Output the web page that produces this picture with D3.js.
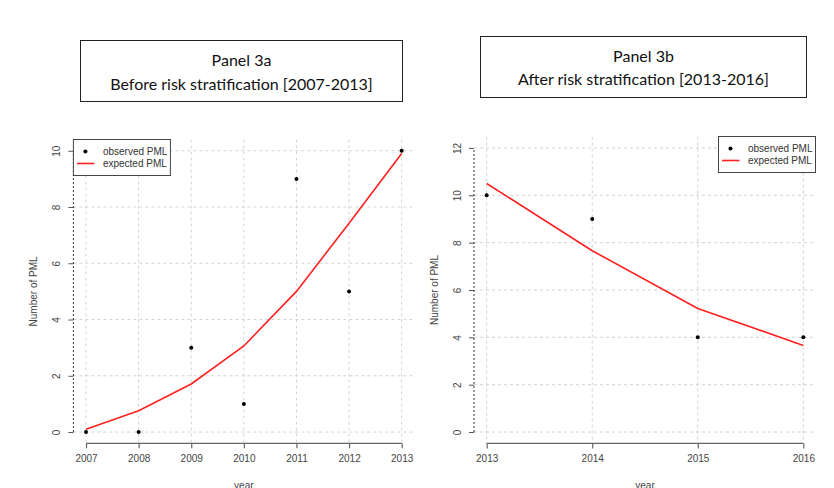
<!DOCTYPE html>
<html>
<head>
<meta charset="utf-8">
<script src="https://cdn.jsdelivr.net/npm/d3@7"></script>
<style>
  body { margin: 0; background: #fff; }
  svg { display: block; }
</style>
</head>
<body>
<script>
const WIDTH = 834;
const HEIGHT = 488;

// panel 3a data
const yearsA = [2007, 2008, 2009, 2010, 2011, 2012, 2013];
const observedA = [0, 0, 3, 1, 9, 5, 10];
const expectedA = [0.1, 0.76, 1.71, 3.06, 5.0, 7.42, 9.9];
const yTicksA = [0, 2, 4, 6, 8, 10];
const titleA = ["Panel 3a", "Before risk stratification [2007-2013]"];

// panel 3b data
const yearsB = [2013, 2014, 2015, 2016];
const observedB = [10, 9, 4, 4];
const expectedB = [10.5, 7.66, 5.22, 3.66];
const yTicksB = [0, 2, 4, 6, 8, 10, 12];
const titleB = ["Panel 3b", "After risk stratification [2013-2016]"];

const legendLabels = ["observed PML", "expected PML"];
const xLabel = "year";
const yLabel = "Number of PML";

var svg = d3.select("body").append("svg")
    .attr("width", WIDTH)
    .attr("height", HEIGHT);

// title boxes above each plot
function drawTitleBox(box, lines) {
    svg.append("rect")
        .attr("x", box.x).attr("y", box.y)
        .attr("width", box.w).attr("height", box.h)
        .attr("fill", "#fff")
        .attr("stroke", "#222")
        .attr("stroke-width", 1);
    svg.selectAll(null)
        .data(lines)
        .enter().append("text")
        .attr("x", box.x + box.w / 2)
        .attr("y", function(d, i) { return box.y + box.line1 + i * box.gap; })
        .attr("text-anchor", "middle")
        .style("font-family", "Lato, 'Open Sans', sans-serif")
        .style("font-size", "16px")
        .style("fill", "#111")
        .text(function(d) { return d; });
}

drawTitleBox({x: 80.5, y: 40.5, w: 322, h: 61, line1: 25, gap: 24}, titleA);
drawTitleBox({x: 480.5, y: 36.5, w: 326, h: 61, line1: 25, gap: 23}, titleB);

// one R style plot: points, red line, dotted grid, legend
function drawPanel(p) {
    var xPad = (d3.max(p.years) - d3.min(p.years)) * 0.04;
    var yMax = d3.max(p.yTicks);
    var yPad = yMax * 0.04;

    var x = d3.scaleLinear()
        .domain([d3.min(p.years) - xPad, d3.max(p.years) + xPad])
        .range([p.left, p.right]);
    var y = d3.scaleLinear()
        .domain([-yPad, yMax + yPad])
        .range([p.bottom, p.top]);

    var g = svg.append("g");
    var font = "'Liberation Sans', Arial, sans-serif";

    // grid
    g.selectAll(".vgrid").data(p.years).enter().append("line")
        .attr("x1", function(d) { return x(d); })
        .attr("x2", function(d) { return x(d); })
        .attr("y1", p.top).attr("y2", p.bottom)
        .attr("stroke", "#d3d3d3").attr("stroke-dasharray", "3,3");
    g.selectAll(".hgrid").data(p.yTicks).enter().append("line")
        .attr("x1", p.left).attr("x2", p.right)
        .attr("y1", function(d) { return y(d); })
        .attr("y2", function(d) { return y(d); })
        .attr("stroke", "#d3d3d3").attr("stroke-dasharray", "3,3");

    // x axis, line only from first to last tick
    var xAxis = d3.axisBottom(x)
        .tickValues(p.years)
        .tickFormat(d3.format("d"))
        .tickSize(5)
        .tickPadding(7);
    var gx = g.append("g")
        .attr("transform", "translate(0," + p.bottom + ")")
        .call(xAxis);
    gx.select(".domain").remove();
    gx.append("line")
        .attr("x1", x(d3.min(p.years))).attr("x2", x(d3.max(p.years)))
        .attr("stroke", "#666").attr("stroke-width", 1.2);
    gx.selectAll(".tick line").attr("stroke", "#666").attr("stroke-width", 1.2);
    gx.selectAll(".tick text")
        .style("font-family", font).style("font-size", "10px").style("fill", "#444");

    // y axis, rotated labels, dotted axis line
    var yAxis = d3.axisLeft(y)
        .tickValues(p.yTicks)
        .tickSize(5);
    var gy = g.append("g")
        .attr("transform", "translate(" + p.left + ",0)")
        .call(yAxis);
    gy.select(".domain").remove();
    gy.append("line")
        .attr("y1", y(0)).attr("y2", y(yMax))
        .attr("stroke", "#333").attr("stroke-dasharray", "2,2");
    gy.selectAll(".tick line").attr("stroke", "#555");
    gy.selectAll(".tick text")
        .attr("transform", "rotate(-90)")
        .attr("x", 0).attr("y", -13).attr("dy", 0)
        .attr("text-anchor", "middle")
        .style("font-family", font).style("font-size", "10px").style("fill", "#444");

    // axis titles
    g.append("text")
        .attr("x", (p.left + p.right) / 2)
        .attr("y", 489)
        .attr("text-anchor", "middle")
        .style("font-family", font).style("font-size", "10px").style("fill", "#444")
        .text(xLabel);
    g.append("text")
        .attr("transform", "translate(" + (p.left - 36) + "," + ((p.top + p.bottom) / 2) + ") rotate(-90)")
        .attr("text-anchor", "middle")
        .style("font-family", font).style("font-size", "10px").style("fill", "#444")
        .text(yLabel);

    // expected line
    var line = d3.line()
        .x(function(d, i) { return x(p.years[i]); })
        .y(function(d) { return y(d); });
    g.append("path")
        .datum(p.expected)
        .attr("d", line)
        .attr("fill", "none")
        .attr("stroke", "#ff2020")
        .attr("stroke-width", 1.6);

    // observed points
    g.selectAll(".pt").data(p.observed).enter().append("circle")
        .attr("cx", function(d, i) { return x(p.years[i]); })
        .attr("cy", function(d) { return y(d); })
        .attr("r", 2)
        .attr("fill", "#000");

    // legend box
    var lg = g.append("g").attr("transform", "translate(" + p.legend.x + "," + p.legend.y + ")");
    lg.append("rect")
        .attr("width", p.legend.w).attr("height", 36)
        .attr("fill", "#fff").attr("stroke", "#444").attr("stroke-width", 1);
    lg.append("circle")
        .attr("cx", 12).attr("cy", 12).attr("r", 2).attr("fill", "#000");
    lg.append("line")
        .attr("x1", 3.5).attr("x2", 21).attr("y1", 24).attr("y2", 24)
        .attr("stroke", "#ff2020").attr("stroke-width", 1.6);
    lg.selectAll(".lab").data(legendLabels).enter().append("text")
        .attr("x", 29.5)
        .attr("y", function(d, i) { return 15.5 + i * 12; })
        .style("font-family", font).style("font-size", "10px").style("fill", "#333")
        .text(function(d) { return d; });
}

drawPanel({
    years: yearsA, observed: observedA, expected: expectedA, yTicks: yTicksA,
    left: 73.4, right: 414.3, top: 139.5, bottom: 443.3,
    legend: {x: 73.4, y: 139.5, w: 97}
});

drawPanel({
    years: yearsB, observed: observedB, expected: expectedB, yTicks: yTicksB,
    left: 474, right: 816, top: 136.6, bottom: 443.4,
    legend: {x: 718.5, y: 136.5, w: 97}
});
</script>
</body>
</html>
